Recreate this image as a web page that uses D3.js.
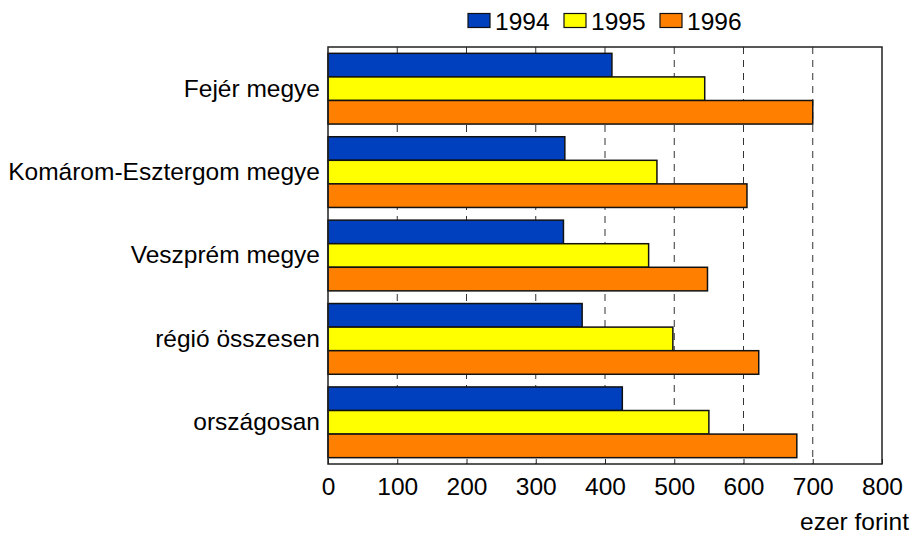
<!DOCTYPE html>
<html>
<head>
<meta charset="utf-8">
<script src="https://cdn.jsdelivr.net/npm/d3@7"></script>
<style>
  html, body { margin: 0; padding: 0; background: #fff; }
  svg { display: block; font-family: "Liberation Sans", Arial, sans-serif; }
</style>
</head>
<body>
<svg id="chart" width="914" height="540"></svg>
<script>
const categories = ["Fejér megye", "Komárom-Esztergom megye", "Veszprém megye", "régió összesen", "országosan"];
const seriesNames = ["1994", "1995", "1996"];
const values1994 = [410, 342, 340, 367, 425];
const values1995 = [544, 475, 463, 498, 550];
const values1996 = [700, 605, 548, 622, 677];
const seriesColors = ["#0040BF", "#FFFF00", "#FF8000"];
const xTicks = [0, 100, 200, 300, 400, 500, 600, 700, 800];
const xUnit = "ezer forint";

const seriesValues = [values1994, values1995, values1996];
const svg = d3.select("#chart");
const plot = { left: 328, right: 882, top: 47, bottom: 464 };
const FS = 24.5;

const x = d3.scaleLinear().domain([0, 800]).range([plot.left, plot.right]);
const y = d3.scaleBand().domain(categories).range([plot.top, plot.bottom])
  .paddingInner(0.152).paddingOuter(0.076);
const ySub = d3.scaleBand().domain(seriesNames).range([0, y.bandwidth()]);

// gridlines (dashed)
svg.append("g").selectAll("line")
  .data(xTicks.filter(t => t > 0 && t < 800))
  .join("line")
  .attr("x1", d => x(d)).attr("x2", d => x(d))
  .attr("y1", plot.top).attr("y2", plot.bottom)
  .attr("stroke", "#333").attr("stroke-width", 1)
  .attr("stroke-dasharray", "7,6");

// bars
const groups = svg.append("g").selectAll("g")
  .data(categories)
  .join("g")
  .attr("transform", d => `translate(0,${y(d)})`);

groups.selectAll("rect")
  .data((c, i) => seriesNames.map((s, j) => ({ s, j, v: seriesValues[j][i] })))
  .join("rect")
  .attr("x", x(0))
  .attr("y", d => ySub(d.s))
  .attr("width", d => x(d.v) - x(0))
  .attr("height", ySub.bandwidth())
  .attr("fill", d => seriesColors[d.j])
  .attr("stroke", "#111")
  .attr("stroke-width", 1.5);

// frame
svg.append("rect")
  .attr("x", plot.left).attr("y", plot.top)
  .attr("width", plot.right - plot.left).attr("height", plot.bottom - plot.top)
  .attr("fill", "none").attr("stroke", "#222").attr("stroke-width", 1.5);

// x axis
const xAxis = d3.axisBottom(x).tickValues(xTicks).tickSizeInner(-5).tickSizeOuter(0).tickPadding(14);
const gx = svg.append("g").attr("transform", `translate(0,${plot.bottom})`).call(xAxis);
gx.select(".domain").remove();
gx.selectAll(".tick line").attr("stroke", "#222");
gx.selectAll("text").attr("font-size", FS).attr("fill", "#000")
  .attr("font-family", "Liberation Sans, Arial, sans-serif");

// y axis labels
const yAxis = d3.axisLeft(y).tickSize(0).tickPadding(8);
const gy = svg.append("g").attr("transform", `translate(${plot.left},0)`).call(yAxis);
gy.select(".domain").remove();
gy.selectAll("text").attr("font-size", FS).attr("fill", "#000")
  .attr("font-family", "Liberation Sans, Arial, sans-serif");

// unit label
svg.append("text").attr("x", 909).attr("y", 530).attr("text-anchor", "end")
  .attr("font-size", FS).attr("fill", "#000").text(xUnit);

// legend
const legendX = [468, 564, 660];
const legend = svg.append("g").selectAll("g").data(seriesNames).join("g")
  .attr("transform", (d, i) => `translate(${legendX[i]},0)`);
legend.append("rect").attr("x", 0).attr("y", 13.5).attr("width", 22).attr("height", 14)
  .attr("fill", (d, i) => seriesColors[i]).attr("stroke", "#111").attr("stroke-width", 1.2);
legend.append("text").attr("x", 27).attr("y", 29.5).attr("font-size", FS).attr("fill", "#000")
  .text(d => d);
</script>
</body>
</html>
